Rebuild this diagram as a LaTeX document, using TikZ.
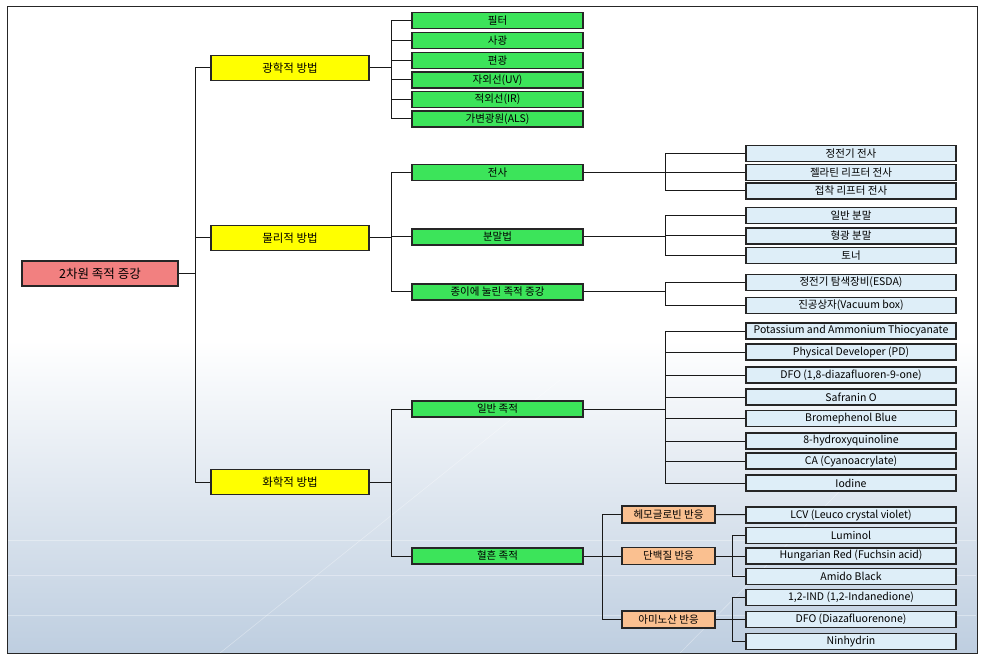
\documentclass[tikz,border=0pt]{standalone}
\usepackage{fontspec}
\setmainfont{Noto Sans CJK KR}
\usetikzlibrary{positioning}

\definecolor{rootred}{RGB}{242,128,128}
\definecolor{methyellow}{RGB}{255,255,0}
\definecolor{subgreen}{RGB}{60,228,90}
\definecolor{leafblue}{RGB}{222,238,248}
\definecolor{reactorange}{RGB}{250,192,144}
\definecolor{floorblue}{RGB}{190,206,224}

\tikzset{
  box/.style={draw=black!85, line width=1.1pt, inner sep=0pt, text=black},
  rootbox/.style={box, fill=rootred, minimum width=156pt, minimum height=25pt, font=\fontsize{12.5}{13}\selectfont},
  methbox/.style={box, fill=methyellow, minimum width=158pt, minimum height=25pt, font=\fontsize{11.5}{12}\selectfont},
  subbox/.style={box, fill=subgreen, minimum width=171pt, minimum height=16pt, font=\fontsize{10.5}{11}\selectfont},
  leafbox/.style={box, fill=leafblue, minimum width=210pt, minimum height=16pt, font=\fontsize{10.5}{11}\selectfont},
  reactbox/.style={box, fill=reactorange, minimum width=93pt, minimum height=17pt, font=\fontsize{10.5}{11}\selectfont},
  link/.style={line width=1pt, black!90}
}

\begin{document}
\begin{tikzpicture}[x=1pt, y=-1pt]
\useasboundingbox (0,0) rectangle (985,660);

% frame and floor
\fill[white] (7,7) rectangle (977,653);
\shade[top color=white, bottom color=floorblue] (7,340) rectangle (977,653);
\foreach \yy in {540,575,615} \draw[white, opacity=0.35, line width=0.6pt] (8,\yy) -- (976,\yy);
\draw[white, opacity=0.35, line width=0.6pt] (220,653) -- (560,380);
\draw[white, opacity=0.35, line width=0.6pt] (680,653) -- (900,430);
\draw[black!85, line width=1pt] (7,7) rectangle (977,653);

\def\xr{100}
\def\xm{290}
\def\xs{497.5}
\def\xo{668.5}
\def\xl{851}

\def\ja{195}
\def\jb{391}
\def\jc{665}
\def\jd{602}
\def\je{732}

\node[rootbox] (root) at (\xr, 273.5) {2차원 족적 증강};

\node[methbox] (opt) at (\xm, 68) {광학적 방법};
\node[methbox] (phy) at (\xm, 238) {물리적 방법};
\node[methbox] (chem) at (\xm, 482) {화학적 방법};

\node[subbox] (filt) at (\xs, 20.5) {필터};
\node[subbox] (obl) at (\xs, 40.5) {사광};
\node[subbox] (pol) at (\xs, 60.5) {편광};
\node[subbox] (uv) at (\xs, 80) {자외선(UV)};
\node[subbox] (ir) at (\xs, 99.5) {적외선(IR)};
\node[subbox] (als) at (\xs, 119) {가변광원(ALS)};

\node[subbox] (lift) at (\xs, 172.5) {전사};
\node[subbox] (pow) at (\xs, 237) {분말법};
\node[subbox] (ind) at (\xs, 292) {종이에 눌린 족적 증강};

\node[subbox] (lat) at (\xs, 409) {일반 족적};
\node[subbox] (blood) at (\xs, 556) {혈흔 족적};

\node[leafbox] (es) at (\xl, 153.5) {정전기 전사};
\node[leafbox] (gel) at (\xl, 172.5) {젤라틴 리프터 전사};
\node[leafbox] (adh) at (\xl, 191) {접착 리프터 전사};
\node[leafbox] (gp) at (\xl, 215.5) {일반 분말};
\node[leafbox] (fp) at (\xl, 236) {형광 분말};
\node[leafbox] (ton) at (\xl, 255.5) {토너};
\node[leafbox] (esda) at (\xl, 282.5) {정전기 탐색장비(ESDA)};
\node[leafbox] (vac) at (\xl, 305.5) {진공상자(Vacuum box)};

\node[leafbox] (kat) at (\xl, 331) {Potassium and Ammonium Thiocyanate};
\node[leafbox] (pd) at (\xl, 352) {Physical Developer (PD)};
\node[leafbox] (dfoa) at (\xl, 375) {DFO (1,8-diazafluoren-9-one)};
\node[leafbox] (saf) at (\xl, 397) {Safranin O};
\node[leafbox] (bpb) at (\xl, 418.5) {Bromephenol Blue};
\node[leafbox] (hq) at (\xl, 441) {8-hydroxyquinoline};
\node[leafbox] (ca) at (\xl, 461) {CA (Cyanoacrylate)};
\node[leafbox] (iod) at (\xl, 483) {Iodine};

\node[reactbox] (hem) at (\xo, 514.5) {헤모글로빈 반응};
\node[reactbox] (prot) at (\xo, 556) {단백질 반응};
\node[reactbox] (amin) at (\xo, 619.5) {아미노산 반응};

\node[leafbox] (lcv) at (\xl, 515) {LCV (Leuco crystal violet)};
\node[leafbox] (lum) at (\xl, 535.5) {Luminol};
\node[leafbox] (hr) at (\xl, 556) {Hungarian Red (Fuchsin acid)};
\node[leafbox] (ab) at (\xl, 576.5) {Amido Black};
\node[leafbox] (ind2) at (\xl, 597.5) {1,2-IND (1,2-Indanedione)};
\node[leafbox] (dfob) at (\xl, 619.5) {DFO (Diazafluorenone)};
\node[leafbox] (nin) at (\xl, 641.5) {Ninhydrin};

\coordinate (jroot) at (\ja, 273.5);
\coordinate (jopt) at (\jb, 68);
\coordinate (jphy) at (\jb, 238);
\coordinate (jchem) at (\jb, 482);
\coordinate (jlift) at (\jc, 172.5);
\coordinate (jpow) at (\jc, 237);
\coordinate (jind) at (\jc, 292);
\coordinate (jlat) at (\jc, 409);
\coordinate (jblood) at (\jd, 556);
\coordinate (jprot) at (\je, 556);
\coordinate (jamin) at (\je, 619.5);

\draw[link] (root) -- (jroot);
\draw[link] (jroot) |- (opt);
\draw[link] (jroot) |- (phy);
\draw[link] (jroot) |- (chem);

\draw[link] (opt) -- (jopt);
\draw[link] (jopt) |- (filt);
\draw[link] (jopt) |- (obl);
\draw[link] (jopt) |- (pol);
\draw[link] (jopt) |- (uv);
\draw[link] (jopt) |- (ir);
\draw[link] (jopt) |- (als);

\draw[link] (phy) -- (jphy);
\draw[link] (jphy) |- (lift);
\draw[link] (jphy) |- (pow);
\draw[link] (jphy) |- (ind);

\draw[link] (lift) -- (jlift);
\draw[link] (jlift) |- (es);
\draw[link] (jlift) |- (gel);
\draw[link] (jlift) |- (adh);
\draw[link] (pow) -- (jpow);
\draw[link] (jpow) |- (gp);
\draw[link] (jpow) |- (fp);
\draw[link] (jpow) |- (ton);
\draw[link] (ind) -- (jind);
\draw[link] (jind) |- (esda);
\draw[link] (jind) |- (vac);

\draw[link] (chem) -- (jchem);
\draw[link] (jchem) |- (lat);
\draw[link] (jchem) |- (blood);

\draw[link] (lat) -- (jlat);
\draw[link] (jlat) |- (kat);
\draw[link] (jlat) |- (pd);
\draw[link] (jlat) |- (dfoa);
\draw[link] (jlat) |- (saf);
\draw[link] (jlat) |- (bpb);
\draw[link] (jlat) |- (hq);
\draw[link] (jlat) |- (ca);
\draw[link] (jlat) |- (iod);

\draw[link] (blood) -- (jblood);
\draw[link] (jblood) |- (hem);
\draw[link] (jblood) |- (prot);
\draw[link] (jblood) |- (amin);

\draw[link] (hem) -- (lcv);
\draw[link] (prot) -- (jprot);
\draw[link] (jprot) |- (lum);
\draw[link] (jprot) |- (hr);
\draw[link] (jprot) |- (ab);
\draw[link] (amin) -- (jamin);
\draw[link] (jamin) |- (ind2);
\draw[link] (jamin) |- (dfob);
\draw[link] (jamin) |- (nin);

\end{tikzpicture}
\end{document}
